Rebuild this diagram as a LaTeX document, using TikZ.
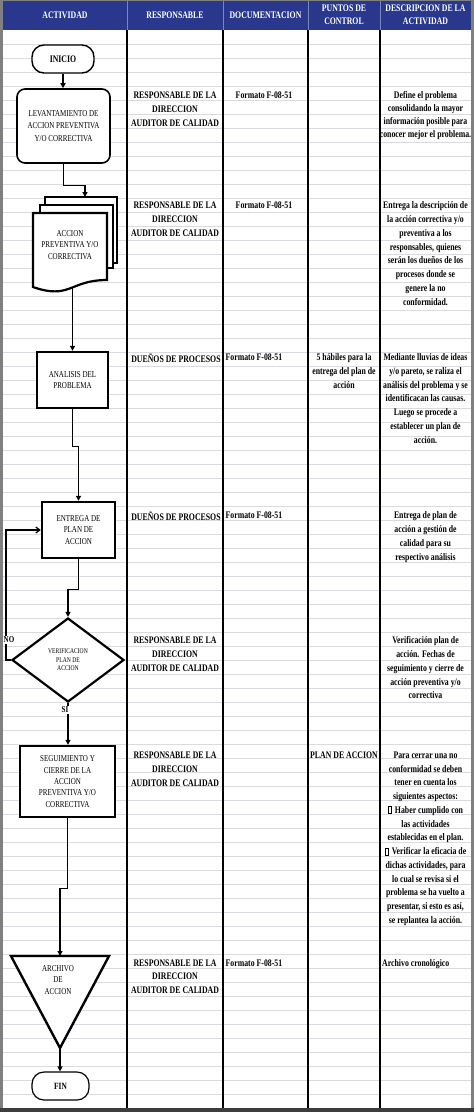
\documentclass[tikz,border=0pt]{standalone}
\usepackage{fontspec}
\setmainfont{Liberation Serif}[FakeStretch=0.78]
\usetikzlibrary{arrows.meta,shapes.geometric}
\definecolor{hdrblue}{RGB}{41,55,140}
\definecolor{hdrsep}{RGB}{120,135,185}
\definecolor{gridc}{RGB}{218,218,224}
\definecolor{framec}{RGB}{128,128,128}
\definecolor{framedark}{RGB}{60,60,60}
\newcommand\nobox{{\setlength\fboxsep{0pt}\setlength\fboxrule{0.5pt}\fbox{\rule{0pt}{6.5pt}\rule{3pt}{0pt}}}\hspace{3pt}}
\begin{document}
\begin{tikzpicture}[x=1pt,y=-1pt,
  cell/.style={font=\bfseries\fontsize{10}{13.75}\selectfont, align=center, inner sep=0pt, anchor=north},
  cellw/.style={font=\bfseries\fontsize{10}{13.75}\selectfont, align=left, inner sep=0pt, anchor=north west},
  hd/.style={text=white, font=\bfseries\fontsize{10}{13.4}\selectfont, align=center, inner sep=0pt},
  box/.style={draw, fill=white, align=center, inner sep=1pt, font=\fontsize{9}{11.8}\selectfont},
  stxt/.style={align=center, inner sep=0pt, font=\fontsize{9}{11.8}\selectfont},
  conn/.style={line width=1.2pt, -{Triangle[length=5pt,width=5pt]}},
  lbl/.style={font=\bfseries\fontsize{9}{10}\selectfont, inner sep=0.5pt, fill=white}]
\useasboundingbox (0,0) rectangle (474,1112);
% frame and table
\fill[framec] (0,0) rectangle (474,1112);
\fill[white] (3,30) rectangle (471,1108);
\fill[framedark] (0,1108) rectangle (474,1112);
\fill[hdrblue] (3,1) rectangle (471,30);
\foreach \k in {1,...,76} \draw[gridc, line width=0.6pt] (3,{30+14*\k}) -- (471,{30+14*\k});
\foreach \x in {127,223,308,380} \draw[hdrsep, line width=1pt] (\x,1) -- (\x,30);
\foreach \x in {127,223,308,380} \draw[black, line width=1.6pt] (\x,30) -- (\x,1108);
% header
\node[hd] (h1) at (65,15) {ACTIVIDAD};
\node[hd] (h2) at (175,15) {RESPONSABLE};
\node[hd] (h3) at (265.5,15) {DOCUMENTACION};
\node[hd] (h4) at (344,15) {PUNTOS DE\\CONTROL};
\node[hd] (h5) at (425.5,15) {DESCRIPCION DE LA\\ACTIVIDAD};
% shapes
\node[box, rounded corners=12pt, line width=1.4pt, minimum width=62pt, minimum height=28pt, font=\bfseries\fontsize{10}{12}\selectfont] (inicio) at (63,59) {INICIO};
\node[box, rounded corners=8pt, line width=1.6pt, minimum width=93pt, minimum height=74pt, font=\fontsize{9}{12.8}\selectfont] (lev) at (63.5,126) {LEVANTAMIENTO DE\\ACCION PREVENTIVA\\Y/O CORRECTIVA};
\draw[fill=white, line width=2pt] (45,197) -- (117,197) -- (117,263) -- (45,263) -- cycle;
\draw[fill=white, line width=2pt] (40,205) -- (113,205) -- (113,268) -- (40,268) -- cycle;
\draw[fill=white, line width=2.2pt] (33,213) -- (107,213) -- (107,280) .. controls (70,280) and (70,300) .. (33,287) -- cycle;
\node[stxt] (accion) at (70,245) {ACCION\\PREVENTIVA Y/O\\CORRECTIVA};
\coordinate (mdtop) at (85,197);
\coordinate (mdbot) at (72.5,287);
\node[box, line width=2.4pt, minimum width=71pt, minimum height=56pt] (ana) at (72.5,380) {ANALISIS DEL\\PROBLEMA};
\node[box, line width=2.4pt, minimum width=73pt, minimum height=56pt] (ent) at (78.5,530) {ENTREGA DE\\PLAN DE\\ACCION};
\node[draw, fill=white, diamond, line width=2.2pt, minimum width=112pt, minimum height=84pt, inner sep=0pt, align=center, font=\fontsize{7.2}{8.4}\selectfont] (ver) at (68,660) {VERIFICACION\\PLAN DE\\ACCION};
\node[box, line width=2.4pt, minimum width=95pt, minimum height=71pt, font=\fontsize{9}{11.3}\selectfont] (seg) at (67.5,781.5) {SEGUIMIENTO Y\\CIERRE DE LA\\ACCION\\PREVENTIVA Y/O\\CORRECTIVA};
\draw[fill=white, line width=2.4pt, line join=miter] (11,956) -- (109,956) -- (60,1048) -- cycle;
\coordinate (archtop) at (60,956);
\coordinate (archbot) at (60,1048);
\node[stxt, font=\fontsize{9}{11.5}\selectfont] (arch) at (58,980) {ARCHIVO\\DE\\ACCION};
\node[box, rounded corners=12pt, line width=1.2pt, minimum width=57pt, minimum height=28pt, font=\bfseries\fontsize{9.5}{12}\selectfont] (fin) at (60.5,1086) {FIN};
% connectors
\draw[conn] (inicio.south) -- (inicio.south |- lev.north);
\draw[conn] (lev.south) -- ++(0,22) -| (mdtop);
\draw[conn] (mdbot) -- (mdbot |- ana.north);
\draw[conn] (ana.south) -- ++(0,37) -| (ent.north);
\draw[conn] (ent.south) -- ++(0,30) -| (ver.north);
\draw[line width=1.2pt, -{Straight Barb[length=4pt,width=6pt]}] (ver.west) -- ++(-5,0) |- (ent.west);
\draw[conn] (ver.south) -- (ver.south |- seg.north);
\draw[conn] (seg.south) -- ++(0,70) -| (archtop);
\draw[conn] (archbot) -- (archbot |- fin.north);
\node[lbl] (no) at (9,640) {NO};
\node[lbl] (si) at (65,710) {SI};
% row 1
\node[cell] (r1a) at (175,91.7) {RESPONSABLE DE LA\\DIRECCION\\AUDITOR DE CALIDAD};
\node[cell] (r1b) at (264,91.7) {Formato F-08-51};
\node[cell, font=\bfseries\fontsize{10}{13}\selectfont] (r1d) at (425.5,91.7) {Define el problema\\consolidando la mayor\\información posible para\\conocer mejor el problema.};
% row 2
\node[cell] (r2a) at (175,201.7) {RESPONSABLE DE LA\\DIRECCION\\AUDITOR DE CALIDAD};
\node[cell] (r2b) at (264,201.7) {Formato F-08-51};
\node[cell] (r2d) at (425.5,201.7) {Entrega la descripción de\\la acción correctiva y/o\\preventiva a los\\responsables, quienes\\serán los dueños de los\\procesos donde se\\genere la no\\conformidad.};
% row 3
\node[cell] (r3a) at (176,353.4) {DUEÑOS DE PROCESOS};
\node[cellw] (r3b) at (225.5,353.4) {Formato F-08-51};
\node[cell] (r3c) at (344,353.4) {5 hábiles para la\\entrega del plan de\\acción};
\node[cell] (r3d) at (425.5,353.4) {Mediante lluvias de ideas\\y/o pareto, se raliza el\\análisis del problema y se\\identificacan las causas.\\Luego se procede a\\establecer un plan de\\acción.};
% row 4
\node[cell] (r4a) at (176,511.7) {DUEÑOS DE PROCESOS};
\node[cellw] (r4b) at (225.5,511.7) {Formato F-08-51};
\node[cell] (r4d) at (425.5,511.7) {Entrega de plan de\\acción a gestión de\\calidad para su\\respectivo análisis};
% row 5
\node[cell] (r5a) at (175,636.7) {RESPONSABLE DE LA\\DIRECCION\\AUDITOR DE CALIDAD};
\node[cell] (r5d) at (425.5,636.7) {Verificación plan de\\acción. Fechas de\\seguimiento y cierre de\\acción preventiva y/o\\correctiva};
% row 6
\node[cell] (r6a) at (175,751.7) {RESPONSABLE DE LA\\DIRECCION\\AUDITOR DE CALIDAD};
\node[cell] (r6c) at (344,751.7) {PLAN DE ACCION};
\node[cell] (r6d) at (425.5,751.7) {Para cerrar una no\\conformidad se deben\\tener en cuenta los\\siguientes aspectos:\\\nobox Haber cumplido con\\las actividades\\establecidas en el plan.\\\nobox Verificar la eficacia de\\dichas actividades, para\\lo cual se revisa si el\\problema se ha vuelto a\\presentar, si esto es así,\\se replantea la acción.};
% row 7
\node[cell] (r7a) at (175,959.4) {RESPONSABLE DE LA\\DIRECCION\\AUDITOR DE CALIDAD};
\node[cellw] (r7b) at (225.5,959.4) {Formato F-08-51};
\node[cellw] (r7d) at (382,959.4) {Archivo cronológico};
\end{tikzpicture}
\end{document}
